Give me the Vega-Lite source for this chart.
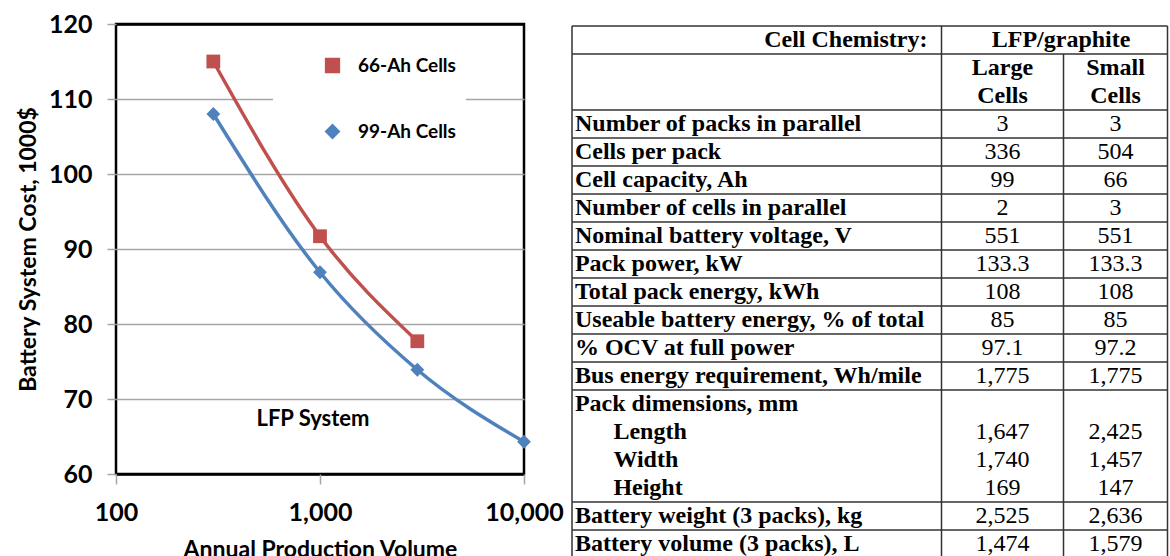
{
  "$schema": "https://vega.github.io/schema/vega-lite/v6.json",
  "background": "white",
  "padding": {"left": 16, "top": 10, "right": 0, "bottom": 0},
  "spacing": 6,
  "config": {"font": "Lato"},
  "datasets": {
    "cost": [
      {"series": "66-Ah Cells", "volume": 300, "cost": 115},
      {"series": "66-Ah Cells", "volume": 1000, "cost": 91.7},
      {"series": "66-Ah Cells", "volume": 3000, "cost": 77.7},
      {"series": "99-Ah Cells", "volume": 300, "cost": 108},
      {"series": "99-Ah Cells", "volume": 1000, "cost": 86.9},
      {"series": "99-Ah Cells", "volume": 3000, "cost": 73.9},
      {"series": "99-Ah Cells", "volume": 10000, "cost": 64.3}
    ],
    "note": [{"volume": 924, "cost": 67.3, "note": "LFP System"}],
    "table": [
      {"line": 0.5, "kind": "chem", "label": "Cell Chemistry:", "span": "LFP/graphite"},
      {"line": 1.5, "kind": "head", "large": "Large", "small": "Small"},
      {"line": 2.5, "kind": "head", "large": "Cells", "small": "Cells"},
      {"line": 3.5, "kind": "row", "label": "Number of packs in parallel", "large": "3", "small": "3"},
      {"line": 4.5, "kind": "row", "label": "Cells per pack", "large": "336", "small": "504"},
      {"line": 5.5, "kind": "row", "label": "Cell capacity, Ah", "large": "99", "small": "66"},
      {"line": 6.5, "kind": "row", "label": "Number of cells in parallel", "large": "2", "small": "3"},
      {"line": 7.5, "kind": "row", "label": "Nominal battery voltage, V", "large": "551", "small": "551"},
      {"line": 8.5, "kind": "row", "label": "Pack power, kW", "large": "133.3", "small": "133.3"},
      {"line": 9.5, "kind": "row", "label": "Total pack energy, kWh", "large": "108", "small": "108"},
      {"line": 10.5, "kind": "row", "label": "Useable battery energy, % of total", "large": "85", "small": "85"},
      {"line": 11.5, "kind": "row", "label": "% OCV at full power", "large": "97.1", "small": "97.2"},
      {"line": 12.5, "kind": "row", "label": "Bus energy requirement, Wh/mile", "large": "1,775", "small": "1,775"},
      {"line": 13.5, "kind": "row", "label": "Pack dimensions, mm"},
      {"line": 14.5, "kind": "sub", "label": "Length", "large": "1,647", "small": "2,425"},
      {"line": 15.5, "kind": "sub", "label": "Width", "large": "1,740", "small": "1,457"},
      {"line": 16.5, "kind": "sub", "label": "Height", "large": "169", "small": "147"},
      {"line": 17.5, "kind": "row", "label": "Battery weight (3 packs), kg", "large": "2,525", "small": "2,636"},
      {"line": 18.5, "kind": "row", "label": "Battery volume (3 packs), L", "large": "1,474", "small": "1,579"}
    ],
    "hlines": [
      {"at": 0, "from": 0, "to": 3}, {"at": 1, "from": 0, "to": 3}, {"at": 3, "from": 0, "to": 3},
      {"at": 4, "from": 0, "to": 3}, {"at": 5, "from": 0, "to": 3}, {"at": 6, "from": 0, "to": 3},
      {"at": 7, "from": 0, "to": 3}, {"at": 8, "from": 0, "to": 3}, {"at": 9, "from": 0, "to": 3},
      {"at": 10, "from": 0, "to": 3}, {"at": 11, "from": 0, "to": 3}, {"at": 12, "from": 0, "to": 3},
      {"at": 13, "from": 0, "to": 3}, {"at": 17, "from": 0, "to": 3}, {"at": 18, "from": 0, "to": 3},
      {"at": 19, "from": 0, "to": 3}
    ],
    "vlines": [
      {"at": 0, "from": 0, "to": 19}, {"at": 1, "from": 0, "to": 19},
      {"at": 2, "from": 1, "to": 19}, {"at": 3, "from": 0, "to": 19}
    ]
  },
  "hconcat": [
    {
      "width": 408,
      "height": 450,
      "view": {"stroke": "black", "strokeWidth": 2.5},
      "layer": [
        {
          "data": {"name": "cost"},
          "mark": {"type": "line", "interpolate": "monotone", "strokeWidth": 3.5},
          "encoding": {
            "x": {
              "field": "volume", "type": "quantitative",
              "scale": {"type": "log", "domain": [100, 10000], "nice": false},
              "axis": {
                "values": [100, 1000, 10000], "format": ",", "labelFlush": false, "grid": false,
                "domain": false, "tickSize": 10, "tickColor": "#a6a6a6", "tickWidth": 1.5,
                "labelPadding": 16, "labelFont": "Lato", "labelFontSize": 25, "labelFontWeight": "bold",
                "labelColor": "black", "title": "Annual Production Volume", "titleFont": "Lato",
                "titleFontSize": 23, "titleFontWeight": "bold", "titleColor": "black", "titlePadding": 13
              }
            },
            "y": {
              "field": "cost", "type": "quantitative",
              "scale": {"domain": [60, 120], "nice": false, "zero": false},
              "axis": {
                "values": [60, 70, 80, 90, 100, 110, 120], "domain": false, "grid": true,
                "gridColor": {"condition": {"test": "datum.value === 120 || datum.value === 60", "value": "black"}, "value": "#a6a6a6"},
                "gridWidth": {"condition": {"test": "datum.value === 120 || datum.value === 60", "value": 2.5}, "value": 1.5},
                "tickSize": 9, "tickColor": "#a6a6a6", "tickWidth": 1.5, "labelPadding": 15,
                "labelFont": "Lato", "labelFontSize": 25, "labelFontWeight": "bold", "labelColor": "black",
                "title": "Battery System Cost, 1000$", "titleFont": "Lato", "titleFontSize": 23,
                "titleFontWeight": "bold", "titleColor": "black", "titlePadding": 8
              }
            },
            "color": {
              "field": "series", "type": "nominal",
              "scale": {"domain": ["66-Ah Cells", "99-Ah Cells"], "range": ["#C0504D", "#4F81BD"]},
              "legend": {
                "orient": "none", "legendX": 157, "legendY": 22, "title": null,
                "padding": 10, "fillColor": "white", "rowPadding": 45,
                "symbolSize": 190, "symbolOffset": 40, "labelOffset": 16,
                "labelFont": "Lato", "labelFontSize": 19, "labelFontWeight": "bold", "labelColor": "black"
              }
            }
          }
        },
        {
          "data": {"name": "cost"},
          "mark": {"type": "point", "filled": true, "opacity": 1, "size": 190},
          "encoding": {
            "x": {"field": "volume", "type": "quantitative"},
            "y": {"field": "cost", "type": "quantitative"},
            "color": {"field": "series", "type": "nominal"},
            "shape": {
              "field": "series", "type": "nominal",
              "scale": {"domain": ["66-Ah Cells", "99-Ah Cells"], "range": ["square", "diamond"]}
            }
          }
        },
        {
          "data": {"name": "note"},
          "mark": {"type": "text", "font": "Lato", "fontSize": 22, "fontWeight": "bold", "color": "black"},
          "encoding": {
            "x": {"field": "volume", "type": "quantitative"},
            "y": {"field": "cost", "type": "quantitative"},
            "text": {"field": "note"}
          }
        }
      ]
    },
    {
      "width": 595.5,
      "height": 534,
      "view": {"stroke": null},
      "layer": [
        {
          "data": {"name": "hlines"},
          "mark": {"type": "rule", "color": "#333", "strokeWidth": 1.5},
          "encoding": {
            "y": {"field": "at", "type": "quantitative", "scale": {"domain": [-0.075, 19], "reverse": true, "nice": false, "zero": false}, "axis": null},
            "x": {"field": "from", "type": "quantitative", "scale": {"domain": [0, 1, 2, 3], "range": [0, 369.5, 491.5, 595.5], "nice": false, "zero": false}, "axis": null},
            "x2": {"field": "to"}
          }
        },
        {
          "data": {"name": "vlines"},
          "mark": {"type": "rule", "color": "#333", "strokeWidth": 1.5},
          "encoding": {
            "x": {"field": "at", "type": "quantitative", "axis": null},
            "y": {"field": "from", "type": "quantitative", "axis": null},
            "y2": {"field": "to"}
          }
        },
        {
          "data": {"name": "table"},
          "transform": [{"filter": "datum.kind === 'row'"}],
          "mark": {"type": "text", "align": "left", "baseline": "middle", "font": "Liberation Serif", "fontSize": 24, "fontWeight": "bold", "color": "black"},
          "encoding": {
            "x": {"datum": 0.008, "type": "quantitative"},
            "y": {"field": "line", "type": "quantitative"},
            "text": {"field": "label"}
          }
        },
        {
          "data": {"name": "table"},
          "transform": [{"filter": "datum.kind === 'sub'"}],
          "mark": {"type": "text", "align": "left", "baseline": "middle", "font": "Liberation Serif", "fontSize": 24, "fontWeight": "bold", "color": "black"},
          "encoding": {
            "x": {"datum": 0.112, "type": "quantitative"},
            "y": {"field": "line", "type": "quantitative"},
            "text": {"field": "label"}
          }
        },
        {
          "data": {"name": "table"},
          "transform": [{"filter": "datum.kind === 'chem'"}],
          "mark": {"type": "text", "align": "right", "baseline": "middle", "font": "Liberation Serif", "fontSize": 24, "fontWeight": "bold", "color": "black"},
          "encoding": {
            "x": {"datum": 0.962, "type": "quantitative"},
            "y": {"field": "line", "type": "quantitative"},
            "text": {"field": "label"}
          }
        },
        {
          "data": {"name": "table"},
          "transform": [{"filter": "datum.kind === 'chem'"}],
          "mark": {"type": "text", "align": "center", "baseline": "middle", "font": "Liberation Serif", "fontSize": 24, "fontWeight": "bold", "color": "black"},
          "encoding": {
            "x": {"datum": 1.98, "type": "quantitative"},
            "y": {"field": "line", "type": "quantitative"},
            "text": {"field": "span"}
          }
        },
        {
          "data": {"name": "table"},
          "transform": [{"filter": "datum.kind === 'head'"}],
          "mark": {"type": "text", "align": "center", "baseline": "middle", "font": "Liberation Serif", "fontSize": 24, "fontWeight": "bold", "color": "black"},
          "encoding": {
            "x": {"datum": 1.5, "type": "quantitative"},
            "y": {"field": "line", "type": "quantitative"},
            "text": {"field": "large"}
          }
        },
        {
          "data": {"name": "table"},
          "transform": [{"filter": "datum.kind === 'head'"}],
          "mark": {"type": "text", "align": "center", "baseline": "middle", "font": "Liberation Serif", "fontSize": 24, "fontWeight": "bold", "color": "black"},
          "encoding": {
            "x": {"datum": 2.5, "type": "quantitative"},
            "y": {"field": "line", "type": "quantitative"},
            "text": {"field": "small"}
          }
        },
        {
          "data": {"name": "table"},
          "transform": [{"filter": "(datum.kind === 'row' || datum.kind === 'sub') && isValid(datum.large)"}],
          "mark": {"type": "text", "align": "center", "baseline": "middle", "font": "Liberation Serif", "fontSize": 24, "color": "black"},
          "encoding": {
            "x": {"datum": 1.5, "type": "quantitative"},
            "y": {"field": "line", "type": "quantitative"},
            "text": {"field": "large"}
          }
        },
        {
          "data": {"name": "table"},
          "transform": [{"filter": "(datum.kind === 'row' || datum.kind === 'sub') && isValid(datum.small)"}],
          "mark": {"type": "text", "align": "center", "baseline": "middle", "font": "Liberation Serif", "fontSize": 24, "color": "black"},
          "encoding": {
            "x": {"datum": 2.5, "type": "quantitative"},
            "y": {"field": "line", "type": "quantitative"},
            "text": {"field": "small"}
          }
        }
      ]
    }
  ]
}
